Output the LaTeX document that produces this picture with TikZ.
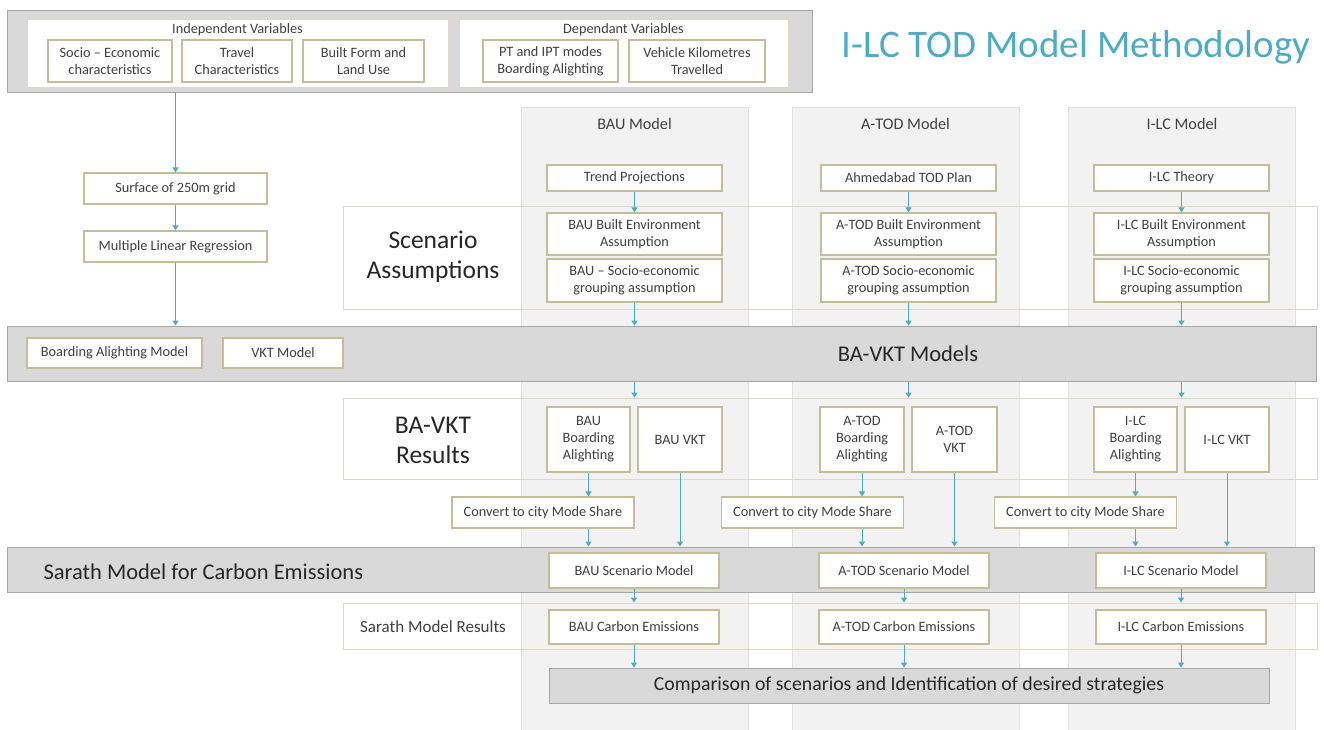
\documentclass[tikz,border=0pt]{standalone}
\usepackage{fontspec}
\setmainfont{Carlito}
\usetikzlibrary{arrows.meta, calc}
\usepackage{xcolor}
\definecolor{myteal}{HTML}{4BACC6}
\definecolor{myolive}{HTML}{C4BD97}
\definecolor{mylightolive}{HTML}{DDD9C3}
\definecolor{mygrey}{HTML}{D9D9D9}
\definecolor{mydarkgrey}{HTML}{A6A6A6}
\definecolor{mytext}{HTML}{404040}

\begin{document}
\begin{tikzpicture}[
    x=1pt, y=-1pt,
    font=\fontsize{14.3}{17}\selectfont, text=mytext,
    band/.style={
      rectangle, draw=mydarkgrey, line width=1pt,
      fill=mygrey, inner sep=0pt
    },
    grp/.style={
      rectangle, draw=mylightolive, line width=0.9pt,
      inner sep=0pt
    },
    box/.style={
      rectangle, draw=myolive, line width=1.2pt,
      fill=white, align=center, inner sep=2pt
    },
    modelcol/.style={
      rectangle, draw=black!12, line width=0.8pt,
      fill=black!5, minimum width=227pt, minimum height=624pt
    },
    coltitle/.style={font=\fontsize{16.2}{19}\selectfont},
    bigtext/.style={font=\fontsize{25.5}{30}\selectfont, text=black!85, align=center},
    arr/.style={-{Triangle[width=6pt,length=5pt]}, line width=1pt, color=myteal}
  ]
  \useasboundingbox (0,0) rectangle (1324,729);
  % Variables
  \node[band, minimum width=805pt, minimum height=82pt] (vars) at (409.5,51) {};
  \node[grp, fill=white, minimum width=421pt, minimum height=68pt] (indep) at (237.5,53) {};
  \node (indeplbl) at (237.5,30) {Independent Variables};
  \node[box, minimum width=124pt, minimum height=42pt] (socio) at (110,61) {Socio – Economic\\characteristics};
  \node[box, minimum width=110pt, minimum height=42pt] (travel) at (237,61) {Travel\\Characteristics};
  \node[box, minimum width=121pt, minimum height=42pt] (built) at (363.5,61) {Built Form and\\Land Use};
  \node[grp, fill=white, minimum width=329pt, minimum height=68pt] (dep) at (623.5,53) {};
  \node (deplbl) at (623.5,30) {Dependant Variables};
  \node[box, minimum width=135pt, minimum height=42pt] (ptipt) at (550.5,61) {PT and IPT modes\\Boarding Alighting};
  \node[box, minimum width=136pt, minimum height=42pt] (vkm) at (697,61) {Vehicle Kilometres\\Travelled};
  % Titel
  \node[font=\fontsize{39}{44}\selectfont, text=myteal] (title) at (1076,47) {I-LC TOD Model Methodology};
  % Modell-Spalten
  \node[modelcol] (baucol) at (634.5,419) {};
  \node[modelcol] (atodcol) at (905.5,419) {};
  \node[modelcol] (ilccol) at (1182,419) {};
  \node[coltitle] (bautitle) at (634.5,124) {BAU Model};
  \node[coltitle] (atodtitle) at (905.5,124) {A-TOD Model};
  \node[coltitle] (ilctitle) at (1182,124) {I-LC Model};
  \node[box, minimum width=175pt, minimum height=26pt] (trend) at (634.5,178) {Trend Projections};
  \node[box, minimum width=175pt, minimum height=26pt] (ahmd) at (908.5,178) {Ahmedabad TOD Plan};
  \node[box, minimum width=175pt, minimum height=26pt] (theory) at (1181.5,178) {I-LC Theory};
  % Scenario Assumptions
  \node[grp, minimum width=974pt, minimum height=103pt] (scen) at (830,257.5) {};
  \node[bigtext] (scenlbl) at (433,257) {Scenario\\Assumptions};
  \node[box, minimum width=175pt, minimum height=42pt] (baubuilt) at (634.5,234) {BAU Built Environment\\Assumption};
  \node[box, minimum width=175pt, minimum height=43pt] (bausocio) at (634.5,280.5) {BAU – Socio-economic\\grouping assumption};
  \node[box, minimum width=175pt, minimum height=42pt] (atodbuilt) at (908.5,234) {A-TOD Built Environment\\Assumption};
  \node[box, minimum width=175pt, minimum height=43pt] (atodsocio) at (908.5,280.5) {A-TOD Socio-economic\\grouping assumption};
  \node[box, minimum width=175pt, minimum height=42pt] (ilcbuilt) at (1181.5,234) {I-LC Built Environment\\Assumption};
  \node[box, minimum width=175pt, minimum height=43pt] (ilcsocio) at (1181.5,280.5) {I-LC Socio-economic\\grouping assumption};
  % Linker Strang
  \node[box, minimum width=183pt, minimum height=31pt] (surface) at (175.5,188.5) {Surface of 250m grid};
  \node[box, minimum width=183pt, minimum height=31pt] (mlr) at (175.5,246.5) {Multiple Linear Regression};
  % BA-VKT Models
  \node[band, minimum width=1309pt, minimum height=55pt] (bavkt) at (661.5,353.5) {};
  \node[font=\fontsize{22.5}{26}\selectfont, text=black!85] (bavktlbl) at (908,354) {BA-VKT Models};
  \node[box, minimum width=175pt, minimum height=30pt] (bamodel) at (114.5,353) {Boarding Alighting Model};
  \node[box, minimum width=120pt, minimum height=30pt] (vktmodel) at (283,353) {VKT Model};
  % BA-VKT Results
  \node[grp, minimum width=974pt, minimum height=81pt] (res) at (830,438.5) {};
  \node[bigtext] (reslbl) at (433,440) {BA-VKT\\Results};
  \node[box, minimum width=83pt, minimum height=65pt] (bauba) at (588.5,439.5) {BAU\\Boarding\\Alighting};
  \node[box, minimum width=84pt, minimum height=65pt] (bauvkt) at (680,439.5) {BAU VKT};
  \node[box, minimum width=84pt, minimum height=65pt] (atodba) at (862,439.5) {A-TOD\\Boarding\\Alighting};
  \node[box, minimum width=85pt, minimum height=65pt] (atodvkt) at (954.5,439.5) {A-TOD\\VKT};
  \node[box, minimum width=83pt, minimum height=65pt] (ilcba) at (1135.5,439.5) {I-LC\\Boarding\\Alighting};
  \node[box, minimum width=84pt, minimum height=65pt] (ilcvkt) at (1227,439.5) {I-LC VKT};
  \node[box, minimum width=182pt, minimum height=31pt] (bauconv) at (543,512.5) {Convert to city Mode Share};
  \node[box, minimum width=182pt, minimum height=31pt] (atodconv) at (812.5,512.5) {Convert to city Mode Share};
  \node[box, minimum width=182pt, minimum height=31pt] (ilcconv) at (1085.5,512.5) {Convert to city Mode Share};
  % Sarath Model
  \node[band, minimum width=1307pt, minimum height=45pt] (sarath) at (660.5,569.5) {};
  \node[font=\fontsize{22.5}{26}\selectfont, text=black!85, anchor=west] (sarathlbl) at (40,572) {Sarath Model for Carbon Emissions};
  \node[box, minimum width=170pt, minimum height=35pt] (bauscen) at (634,570.5) {BAU Scenario Model};
  \node[box, minimum width=170pt, minimum height=35pt] (atodscen) at (904,570.5) {A-TOD Scenario Model};
  \node[box, minimum width=170pt, minimum height=35pt] (ilcscen) at (1181,570.5) {I-LC Scenario Model};
  \node[grp, minimum width=974pt, minimum height=46pt] (sres) at (830,626) {};
  \node[font=\fontsize{17}{20}\selectfont] (sreslbl) at (433,627) {Sarath Model Results};
  \node[box, minimum width=170pt, minimum height=34pt] (baucarb) at (634,627) {BAU Carbon Emissions};
  \node[box, minimum width=170pt, minimum height=34pt] (atodcarb) at (904,627) {A-TOD Carbon Emissions};
  \node[box, minimum width=170pt, minimum height=34pt] (ilccarb) at (1181,627) {I-LC Carbon Emissions};
  % Vergleich
  \node[band, minimum width=720pt, minimum height=35pt, font=\fontsize{19.8}{23}\selectfont, text=black!85] (comp) at (909,685.5) {Comparison of scenarios and Identification of desired strategies};
  % Pfeile links
  \draw[arr] (surface |- vars.south) -- (surface.north);
  \draw[arr] (surface) -- (mlr);
  \draw[arr] (mlr.south) -- (mlr |- bavkt.north);
  % Pfeile BAU
  \draw[arr] (trend) -- (baubuilt);
  \draw[arr] (bausocio.south) -- (bausocio |- bavkt.north);
  \draw[arr] (bausocio |- bavkt.south) -- (bausocio |- res.north);
  \draw[arr] (bauba) -- (bauba |- bauconv.north);
  \draw[arr] (bauba |- bauconv.south) -- (bauba |- sarath.north);
  \draw[arr] (bauvkt) -- (bauvkt |- sarath.north);
  \draw[arr] (bauscen) -- (bauscen |- sres.north);
  \draw[arr] (baucarb) -- (baucarb |- comp.north);
  % Pfeile A-TOD
  \draw[arr] (ahmd) -- (atodbuilt);
  \draw[arr] (atodsocio.south) -- (atodsocio |- bavkt.north);
  \draw[arr] (atodsocio |- bavkt.south) -- (atodsocio |- res.north);
  \draw[arr] (atodba) -- (atodba |- atodconv.north);
  \draw[arr] (atodba |- atodconv.south) -- (atodba |- sarath.north);
  \draw[arr] (atodvkt) -- (atodvkt |- sarath.north);
  \draw[arr] (atodscen) -- (atodscen |- sres.north);
  \draw[arr] (atodcarb) -- (atodcarb |- comp.north);
  % Pfeile I-LC
  \draw[arr] (theory) -- (ilcbuilt);
  \draw[arr] (ilcsocio.south) -- (ilcsocio |- bavkt.north);
  \draw[arr] (ilcsocio |- bavkt.south) -- (ilcsocio |- res.north);
  \draw[arr] (ilcba) -- (ilcba |- ilcconv.north);
  \draw[arr] (ilcba |- ilcconv.south) -- (ilcba |- sarath.north);
  \draw[arr] (ilcvkt) -- (ilcvkt |- sarath.north);
  \draw[arr] (ilcscen) -- (ilcscen |- sres.north);
  \draw[arr] (ilccarb) -- (ilccarb |- comp.north);
\end{tikzpicture}
\end{document}
